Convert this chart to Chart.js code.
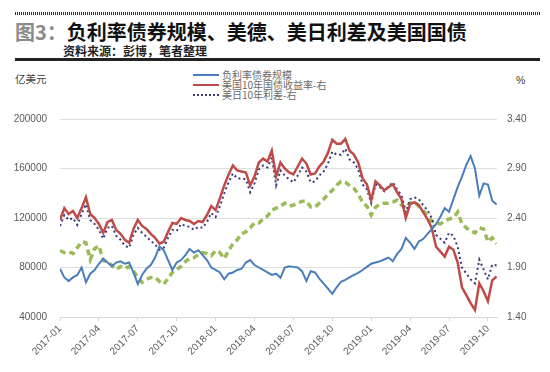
<!DOCTYPE html>
<html>
<head>
<meta charset="utf-8">
<script src="https://cdn.jsdelivr.net/npm/chart.js@4"></script>
<style>
  body { margin: 0; background: #fff; width: 550px; height: 372px; position: relative; overflow: hidden;
         font-family: "Liberation Sans", "Noto Sans CJK SC", sans-serif; }
  .dots { position: absolute; left: 15px; top: 12px; width: 525px; height: 3px;
          background: repeating-linear-gradient(90deg, #333 0 1px, #fff 1px 2px); }
  .title { position: absolute; left: 15px; top: 19px; font: bold 20px "Noto Sans CJK SC", sans-serif; color: #111;
           white-space: nowrap; line-height: 26px; }
  .title span { color: #8a8a8a; }
  .sub { position: absolute; left: 63px; top: 43px; font: bold 12px "Noto Sans CJK SC", sans-serif; color: #222;
         white-space: nowrap; line-height: 16px; }
  .rule { position: absolute; left: 15px; top: 58px; width: 525px; height: 3px; background: #222; }
  .unitL { position: absolute; left: 15px; top: 72px; font: 10.5px "Noto Sans CJK SC", sans-serif; color: #404040; line-height: 14px; }
  .unitR { position: absolute; left: 516px; top: 73px; font: 10.5px "Liberation Sans", sans-serif; color: #404040; line-height: 14px; }
  .lg { position: absolute; left: 222px; font: 10px "Noto Sans CJK SC", sans-serif; color: #6a6a6a;
        white-space: nowrap; line-height: 10px; height: 10px; }
  .lg i { position: absolute; left: -29px; top: 4px; width: 26px; height: 0; }
  #chart { position: absolute; left: 0; top: 100px; }
</style>
</head>
<body>
<div class="dots"></div>
<div class="title"><span>图3：</span>负利率债券规模、美德、美日利差及美国国债</div>
<div class="sub">资料来源：彭博，笔者整理</div>
<div class="rule"></div>
<div class="unitL">亿美元</div>
<div class="unitR">%</div>
<div class="lg" style="top: 70px"><i style="border-top: 2px solid #4a7ebb"></i>负利率债券规模</div>
<div class="lg" style="top: 80px"><i style="border-top: 2px solid #be4b48"></i>美国10年国债收益率-右</div>
<div class="lg" style="top: 89.5px"><i style="border-top: 2px dotted #3d3a7a"></i>美日10年利差-右</div>
<canvas id="chart" width="550" height="272"></canvas>
<script>
// three readings per month, starting 2017-01
const negDebt = [79000, 72000, 69000, 72000, 74000, 80000, 68000, 75000, 78000, 83000, 87000, 84000,
  81000, 84000, 85000, 83000, 84000, 76000, 66500, 74000, 79000, 82000, 88000, 97000,
  94000, 86000, 78000, 84000, 86000, 90000, 95000, 92000, 94000, 90000, 86000, 80000,
  78000, 76000, 70500, 75000, 76000, 78000, 79000, 84000, 86000, 82000, 80000, 78000,
  76000, 74000, 75000, 71700, 80000, 81000, 80500, 80000, 77000, 69000, 77000, 76000,
  71000, 67000, 63000, 58700, 64000, 68500, 70000, 72000, 74000, 75600, 78000, 80500,
  83000, 84000, 85000, 86500, 88000, 85000, 91000, 95000, 104000, 100000, 95000, 101000,
  103000, 107000, 111000, 115000, 121000, 128000, 125000, 135000, 145000, 153500, 163000, 170000,
  160000, 138000, 148000, 147000, 134000, 131000];

const us10y = [2.38, 2.50, 2.44, 2.47, 2.40, 2.50, 2.61, 2.44, 2.40, 2.34, 2.25, 2.36,
  2.38, 2.28, 2.24, 2.18, 2.15, 2.29, 2.38, 2.32, 2.29, 2.24, 2.20, 2.14,
  2.16, 2.26, 2.35, 2.34, 2.40, 2.38, 2.37, 2.34, 2.37, 2.36, 2.43, 2.52,
  2.48, 2.60, 2.73, 2.84, 2.93, 2.88, 2.87, 2.86, 2.73, 2.82, 2.96, 3.00,
  2.97, 3.08, 2.82, 2.96, 2.90, 2.86, 2.84, 2.92, 3.00, 2.95, 2.84, 2.85,
  2.92, 2.97, 3.06, 3.19, 3.15, 3.15, 3.20, 3.08, 3.04, 2.96, 2.80, 2.74,
  2.58, 2.77, 2.73, 2.68, 2.71, 2.74, 2.66, 2.59, 2.40, 2.54, 2.56, 2.53,
  2.46, 2.39, 2.30, 2.11, 2.06, 2.01, 2.11, 2.08, 1.95, 1.70, 1.62, 1.54,
  1.47, 1.74, 1.66, 1.56, 1.77, 1.81];

const usJpSpread = [2.32, 2.43, 2.38, 2.40, 2.33, 2.44, 2.54, 2.38, 2.34, 2.28, 2.19, 2.30,
  2.32, 2.22, 2.18, 2.12, 2.10, 2.23, 2.30, 2.25, 2.21, 2.17, 2.13, 2.08,
  2.10, 2.20, 2.28, 2.27, 2.34, 2.32, 2.31, 2.28, 2.31, 2.30, 2.36, 2.45,
  2.41, 2.52, 2.65, 2.76, 2.85, 2.80, 2.80, 2.79, 2.66, 2.75, 2.89, 2.93,
  2.91, 3.01, 2.73, 2.88, 2.83, 2.79, 2.76, 2.83, 2.91, 2.87, 2.76, 2.77,
  2.83, 2.87, 2.95, 3.07, 3.04, 3.04, 3.10, 2.99, 2.96, 2.89, 2.74, 2.69,
  2.55, 2.74, 2.71, 2.67, 2.72, 2.76, 2.69, 2.63, 2.46, 2.59, 2.61, 2.59,
  2.53, 2.48, 2.40, 2.23, 2.19, 2.15, 2.25, 2.22, 2.11, 1.90, 1.84, 1.78,
  1.74, 1.98, 1.88, 1.78, 1.93, 1.92];

const usDeSpread = [2.07, 2.05, 2.06, 2.04, 2.10, 2.16, 2.15, 1.98, 2.09, 2.12, 1.97, 1.96,
  1.92, 1.88, 1.91, 1.89, 1.91, 1.86, 1.80, 1.75, 1.78, 1.80, 1.80, 1.76,
  1.73, 1.79, 1.85, 1.88, 1.91, 1.96, 1.99, 2.00, 2.03, 2.05, 2.04, 2.02,
  2.07, 2.05, 1.99, 2.07, 2.14, 2.18, 2.24, 2.26, 2.30, 2.35, 2.35, 2.39,
  2.42, 2.48, 2.50, 2.52, 2.55, 2.52, 2.53, 2.55, 2.57, 2.57, 2.51, 2.51,
  2.55, 2.59, 2.64, 2.68, 2.73, 2.77, 2.76, 2.73, 2.70, 2.64, 2.56, 2.52,
  2.43, 2.51, 2.54, 2.55, 2.55, 2.56, 2.58, 2.53, 2.50, 2.55, 2.56, 2.52,
  2.48, 2.42, 2.37, 2.35, 2.34, 2.37, 2.39, 2.40, 2.46, 2.34, 2.30, 2.27,
  2.25, 2.30, 2.29, 2.16, 2.20, 2.14];

const leftTicks = [40000, 80000, 120000, 160000, 200000];
const rightTicks = [1.4, 1.9, 2.4, 2.9, 3.4];

// x position in months since 2017-01
const toPoints = arr => arr.map((v, i) => ({ x: i / 3, y: v }));

const tickFont = { family: '"Liberation Sans", sans-serif', size: 10 };
const tickColor = '#595959';

new Chart(document.getElementById('chart'), {
  type: 'line',
  data: {
    datasets: [
      { data: toPoints(negDebt), yAxisID: 'yL', borderColor: '#4a7ebb', borderWidth: 2 },
      { data: toPoints(us10y), yAxisID: 'yR', borderColor: '#be4b48', borderWidth: 2.5 },
      { data: toPoints(usJpSpread), yAxisID: 'yR', borderColor: '#3d3a7a', borderWidth: 2, borderDash: [2, 3] },
      { data: toPoints(usDeSpread), yAxisID: 'yR', borderColor: '#9bbb59', borderWidth: 3.5, borderDash: [6, 4] }
    ]
  },
  options: {
    responsive: false,
    animation: false,
    layout: { padding: { top: 12, left: 0, right: 0, bottom: 0 } },
    elements: { point: { radius: 0 }, line: { tension: 0 } },
    plugins: { legend: { display: false }, tooltip: { enabled: false } },
    scales: {
      x: {
        type: 'linear', min: 0, max: 33.7,
        grid: { drawOnChartArea: false, color: '#d9d9d9', tickLength: 4 },
        border: { color: '#d9d9d9' },
        ticks: {
          stepSize: 3, includeBounds: false, maxRotation: 45, minRotation: 45,
          font: tickFont, color: tickColor, padding: 2,
          callback: v => (2017 + Math.floor(v / 12)) + '-' + String(v % 12 + 1).padStart(2, '0')
        },
        afterFit: s => { s.height = 55; }
      },
      yL: {
        position: 'left', min: 40000, max: 200000,
        afterBuildTicks: s => { s.ticks = leftTicks.map(v => ({ value: v })); },
        grid: { color: '#dedede', drawTicks: false },
        border: { display: false },
        ticks: { font: tickFont, color: tickColor, padding: 13, callback: v => String(v) },
        afterFit: s => { s.width = 60; }
      },
      yR: {
        position: 'right', min: 1.4, max: 3.4,
        afterBuildTicks: s => { s.ticks = rightTicks.map(v => ({ value: v })); },
        grid: { display: false, drawTicks: false },
        border: { display: false },
        ticks: { font: tickFont, color: tickColor, padding: 10, callback: v => v.toFixed(2) },
        afterFit: s => { s.width = 53; }
      }
    }
  }
});
</script>
</body>
</html>
